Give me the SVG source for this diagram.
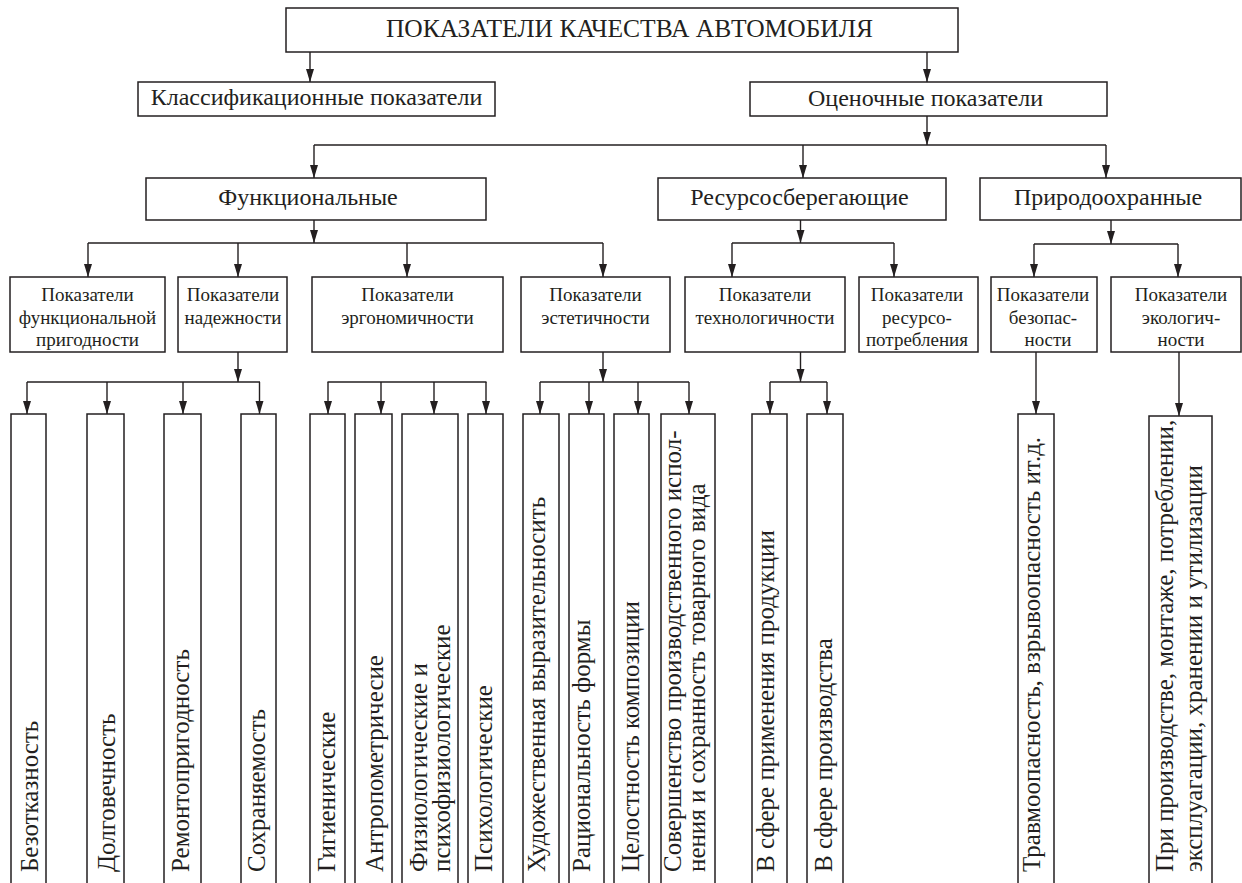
<svg xmlns="http://www.w3.org/2000/svg" width="1242" height="883" viewBox="0 0 1242 883">
  <defs>
    <marker id="ah" markerUnits="userSpaceOnUse" markerWidth="14" markerHeight="10" refX="13" refY="4" orient="auto">
      <path d="M0,0 L13,4 L0,8 Z" fill="#231f20"/>
    </marker>
    <style>
      .box { fill: #ffffff; stroke: #231f20; stroke-width: 1.5; }
      .ln { fill: none; stroke: #231f20; stroke-width: 1.4; }
      .arr { marker-end: url(#ah); }
      text { fill: #231f20; }
      .h1 { font-size: 25.5px; }
      .h2 { font-size: 24px; }
      .h3 { font-size: 19px; text-anchor: middle; }
      .v { font-size: 25px; }
    </style>
  </defs>
  <rect width="1242" height="883" fill="#ffffff"/>

  <!-- connectors -->
  <g id="connectors">
    <line class="ln arr" x1="310" y1="52" x2="310" y2="82"/>
    <line class="ln arr" x1="927" y1="52" x2="927" y2="82"/>
    <line class="ln arr" x1="927" y1="116" x2="927" y2="145"/>
    <line class="ln" x1="314" y1="145" x2="1106" y2="145"/>
    <line class="ln arr" x1="314" y1="145" x2="314" y2="178"/>
    <line class="ln arr" x1="803" y1="145" x2="803" y2="178"/>
    <line class="ln arr" x1="1106" y1="145" x2="1106" y2="178"/>

    <!-- functional branch -->
    <line class="ln arr" x1="314" y1="220" x2="314" y2="243"/>
    <line class="ln" x1="88" y1="243" x2="603" y2="243"/>
    <line class="ln arr" x1="88" y1="243" x2="88" y2="277"/>
    <line class="ln arr" x1="238" y1="243" x2="238" y2="277"/>
    <line class="ln arr" x1="407" y1="243" x2="407" y2="277"/>
    <line class="ln arr" x1="603" y1="243" x2="603" y2="277"/>

    <!-- resource-saving branch -->
    <line class="ln arr" x1="800.5" y1="220" x2="800.5" y2="243"/>
    <line class="ln" x1="732" y1="243" x2="894" y2="243"/>
    <line class="ln arr" x1="732" y1="243" x2="732" y2="277"/>
    <line class="ln arr" x1="894" y1="243" x2="894" y2="277"/>

    <!-- environmental branch -->
    <line class="ln arr" x1="1111" y1="220" x2="1111" y2="244"/>
    <line class="ln" x1="1034" y1="244" x2="1178" y2="244"/>
    <line class="ln arr" x1="1034" y1="244" x2="1034" y2="277"/>
    <line class="ln arr" x1="1178" y1="244" x2="1178" y2="277"/>

    <!-- reliability -->
    <line class="ln arr" x1="238" y1="352" x2="238" y2="382"/>
    <line class="ln" x1="27" y1="382" x2="260" y2="382"/>
    <line class="ln arr" x1="27" y1="382" x2="27" y2="414"/>
    <line class="ln arr" x1="107" y1="382" x2="107" y2="414"/>
    <line class="ln arr" x1="183" y1="382" x2="183" y2="414"/>
    <line class="ln arr" x1="259.5" y1="382" x2="259.5" y2="414"/>

    <!-- ergonomics -->
    <line class="ln" x1="327.5" y1="382" x2="486.5" y2="382"/>
    <line class="ln arr" x1="328" y1="382" x2="328" y2="414"/>
    <line class="ln arr" x1="381" y1="382" x2="381" y2="414"/>
    <line class="ln arr" x1="434" y1="382" x2="434" y2="414"/>
    <line class="ln arr" x1="486" y1="382" x2="486" y2="414"/>

    <!-- aesthetics -->
    <line class="ln arr" x1="603" y1="352" x2="603" y2="382"/>
    <line class="ln" x1="540" y1="382" x2="689" y2="382"/>
    <line class="ln arr" x1="540" y1="382" x2="540" y2="414"/>
    <line class="ln arr" x1="589" y1="382" x2="589" y2="414"/>
    <line class="ln arr" x1="638" y1="382" x2="638" y2="414"/>
    <line class="ln arr" x1="689" y1="382" x2="689" y2="414"/>

    <!-- manufacturability -->
    <line class="ln arr" x1="800.5" y1="352" x2="800.5" y2="382"/>
    <line class="ln" x1="770" y1="382" x2="827" y2="382"/>
    <line class="ln arr" x1="770" y1="382" x2="770" y2="414"/>
    <line class="ln arr" x1="827" y1="382" x2="827" y2="414"/>

    <!-- safety and ecology -->
    <line class="ln arr" x1="1036" y1="352" x2="1036" y2="414"/>
    <line class="ln arr" x1="1179" y1="352" x2="1179" y2="416"/>
  </g>

  <!-- level 1 -->
  <g id="n-root">
    <rect class="box" x="286" y="8" width="672" height="44"/>
    <text class="h1" font-family="Liberation Serif" x="629.5" y="37" text-anchor="middle">ПОКАЗАТЕЛИ КАЧЕСТВА АВТОМОБИЛЯ</text>
  </g>

  <!-- level 2 -->
  <g id="n-class">
    <rect class="box" x="138" y="82" width="357" height="34"/>
    <text class="h2" font-family="Liberation Serif" x="316.5" y="105" text-anchor="middle">Классификационные показатели</text>
  </g>
  <g id="n-eval">
    <rect class="box" x="750" y="82" width="357" height="34"/>
    <text class="h2" font-family="Liberation Serif" x="925.5" y="105.5" text-anchor="middle">Оценочные показатели</text>
  </g>

  <g id="n-func">
    <rect class="box" x="146" y="178" width="340" height="42"/>
    <text class="h2" font-family="Liberation Serif" x="308" y="205" text-anchor="middle">Функциональные</text>
  </g>
  <g id="n-res">
    <rect class="box" x="658" y="178" width="288" height="42"/>
    <text class="h2" font-family="Liberation Serif" x="799.5" y="205" text-anchor="middle">Ресурсосберегающие</text>
  </g>
  <g id="n-env">
    <rect class="box" x="980" y="178" width="261" height="42"/>
    <text class="h2" font-family="Liberation Serif" x="1108" y="205" text-anchor="middle">Природоохранные</text>
  </g>

  <!-- level 3 -->
  <g id="n-fit">
    <rect class="box" x="10" y="277" width="155" height="75"/>
    <text class="h3" font-family="Liberation Serif" x="87.5" y="301">Показатели</text>
    <text class="h3" font-family="Liberation Serif" x="87.5" y="323.5">функциональной</text>
    <text class="h3" font-family="Liberation Serif" x="87.5" y="346">пригодности</text>
  </g>
  <g id="n-rel">
    <rect class="box" x="178" y="277" width="109" height="75"/>
    <text class="h3" font-family="Liberation Serif" x="233" y="301">Показатели</text>
    <text class="h3" font-family="Liberation Serif" x="233" y="323.5">надежности</text>
  </g>
  <g id="n-erg">
    <rect class="box" x="312" y="277" width="191" height="75"/>
    <text class="h3" font-family="Liberation Serif" x="407.5" y="301">Показатели</text>
    <text class="h3" font-family="Liberation Serif" x="407.5" y="323.5">эргономичности</text>
  </g>
  <g id="n-aes">
    <rect class="box" x="521" y="277" width="149" height="75"/>
    <text class="h3" font-family="Liberation Serif" x="595.5" y="301">Показатели</text>
    <text class="h3" font-family="Liberation Serif" x="595.5" y="323.5">эстетичности</text>
  </g>
  <g id="n-tech">
    <rect class="box" x="685" y="277" width="160" height="75"/>
    <text class="h3" font-family="Liberation Serif" x="765" y="301">Показатели</text>
    <text class="h3" font-family="Liberation Serif" x="765" y="323.5">технологичности</text>
  </g>
  <g id="n-cons">
    <rect class="box" x="859" y="277" width="119" height="75"/>
    <text class="h3" font-family="Liberation Serif" x="917" y="301">Показатели</text>
    <text class="h3" font-family="Liberation Serif" x="917" y="323.5">ресурсо-</text>
    <text class="h3" font-family="Liberation Serif" x="917" y="346">потребления</text>
  </g>
  <g id="n-safe">
    <rect class="box" x="991" y="277" width="106" height="75"/>
    <text class="h3" font-family="Liberation Serif" x="1043" y="301">Показатели</text>
    <text class="h3" font-family="Liberation Serif" x="1043" y="323.5">безопас-</text>
    <text class="h3" font-family="Liberation Serif" x="1048" y="346">ности</text>
  </g>
  <g id="n-eco">
    <rect class="box" x="1111" y="277" width="130" height="75"/>
    <text class="h3" font-family="Liberation Serif" x="1181" y="301">Показатели</text>
    <text class="h3" font-family="Liberation Serif" x="1181" y="323.5">экологич-</text>
    <text class="h3" font-family="Liberation Serif" x="1181" y="346">ности</text>
  </g>

  <!-- level 4: tall boxes, open at the bottom edge; labels read upwards -->
  <g id="n-r1">
    <path class="box" d="M11,883 V414 H46 V883"/>
    <g transform="translate(37.5,872) rotate(-90)"><text class="v" font-family="Liberation Serif">Безотказность</text></g>
  </g>
  <g id="n-r2">
    <path class="box" d="M87,883 V414 H124 V883"/>
    <g transform="translate(115,872) rotate(-90)"><text class="v" font-family="Liberation Serif">Долговечность</text></g>
  </g>
  <g id="n-r3">
    <path class="box" d="M164,883 V414 H201 V883"/>
    <g transform="translate(188.5,872) rotate(-90)"><text class="v" font-family="Liberation Serif">Ремонтопригодность</text></g>
  </g>
  <g id="n-r4">
    <path class="box" d="M241,883 V414 H276 V883"/>
    <g transform="translate(265,872) rotate(-90)"><text class="v" font-family="Liberation Serif">Сохраняемость</text></g>
  </g>
  <g id="n-e1">
    <path class="box" d="M310,883 V414 H345 V883"/>
    <g transform="translate(334.5,872) rotate(-90)"><text class="v" font-family="Liberation Serif">Гигиенические</text></g>
  </g>
  <g id="n-e2">
    <path class="box" d="M355,883 V414 H392 V883"/>
    <g transform="translate(383,872) rotate(-90)"><text class="v" font-family="Liberation Serif">Антропометричесие</text></g>
  </g>
  <g id="n-e3">
    <path class="box" d="M402,883 V414 H458 V883"/>
    <g transform="translate(426.5,872) rotate(-90)"><text class="v" font-family="Liberation Serif">Физиологические и</text></g>
    <g transform="translate(449.5,872) rotate(-90)"><text class="v" font-family="Liberation Serif">психофизиологические</text></g>
  </g>
  <g id="n-e4">
    <path class="box" d="M468,883 V414 H503 V883"/>
    <g transform="translate(491.5,872) rotate(-90)"><text class="v" font-family="Liberation Serif">Психологические</text></g>
  </g>
  <g id="n-a1">
    <path class="box" d="M523,883 V414 H559 V883"/>
    <g transform="translate(545,872) rotate(-90)"><text class="v" font-family="Liberation Serif">Художественная выразительносить</text></g>
  </g>
  <g id="n-a2">
    <path class="box" d="M569,883 V414 H604 V883"/>
    <g transform="translate(590,872) rotate(-90)"><text class="v" font-family="Liberation Serif">Рациональность формы</text></g>
  </g>
  <g id="n-a3">
    <path class="box" d="M614,883 V414 H649 V883"/>
    <g transform="translate(638.5,872) rotate(-90)"><text class="v" font-family="Liberation Serif">Целостность композиции</text></g>
  </g>
  <g id="n-a4">
    <path class="box" d="M661,883 V414 H715 V883"/>
    <g transform="translate(681,872) rotate(-90)"><text class="v" font-family="Liberation Serif">Совершенство производственного испол-</text></g>
    <g transform="translate(705,872) rotate(-90)"><text class="v" font-family="Liberation Serif">нения и сохранность товарного вида</text></g>
  </g>
  <g id="n-t1">
    <path class="box" d="M752,883 V414 H787 V883"/>
    <g transform="translate(773.5,872) rotate(-90)"><text class="v" font-family="Liberation Serif">В сфере применения продукции</text></g>
  </g>
  <g id="n-t2">
    <path class="box" d="M807,883 V414 H843 V883"/>
    <g transform="translate(831.5,872) rotate(-90)"><text class="v" font-family="Liberation Serif">В сфере производства</text></g>
  </g>
  <g id="n-s1">
    <path class="box" d="M1018,883 V414 H1054 V883"/>
    <g transform="translate(1040,872) rotate(-90)"><text class="v" font-family="Liberation Serif">Травмоопасность, взрывоопасность ит.д.</text></g>
  </g>
  <g id="n-k1">
    <path class="box" d="M1149,883 V416 H1212 V883"/>
    <g transform="translate(1173,872) rotate(-90)"><text class="v" font-family="Liberation Serif">При производстве, монтаже, потреблении,</text></g>
    <g transform="translate(1201.5,872) rotate(-90)"><text class="v" font-family="Liberation Serif">эксплуагации, хранении и утилизации</text></g>
  </g>
</svg>
